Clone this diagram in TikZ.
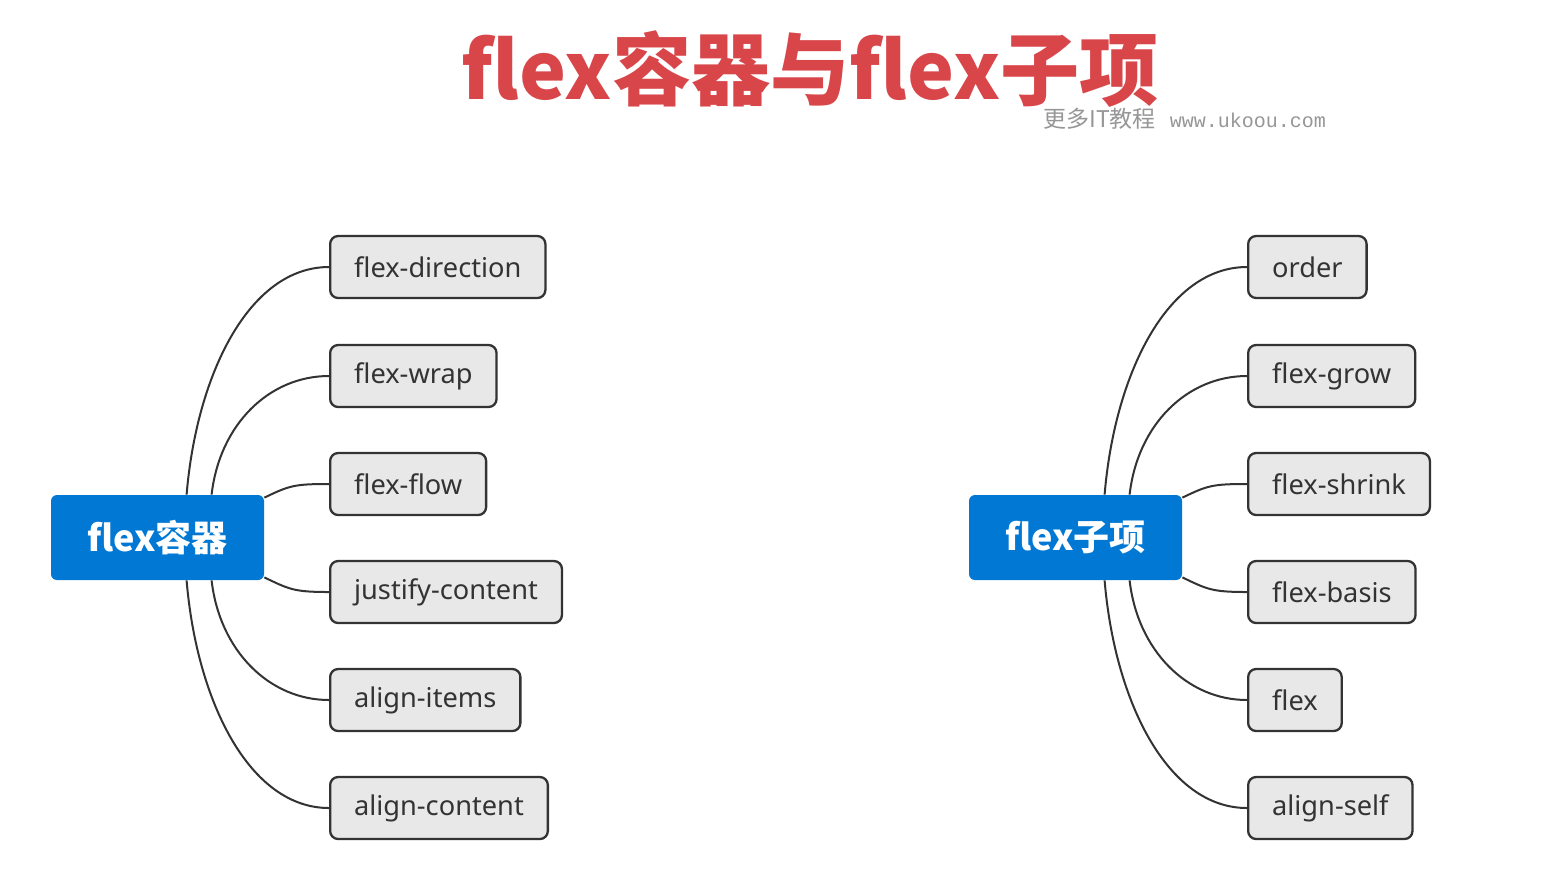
\documentclass[tikz,border=0pt]{standalone}
\usepackage{fontspec}
\setmainfont{Noto Sans}
\newfontfamily\cjk{Noto Sans CJK SC}
\newfontfamily\urlfont{Liberation Mono}
\definecolor{titleRed}{RGB}{217,70,74}
\definecolor{rootBlue}{RGB}{0,120,212}
\definecolor{leafGray}{RGB}{232,232,232}
\definecolor{lineDark}{RGB}{51,51,51}
\definecolor{markGray}{RGB}{150,150,150}

\begin{document}
\begin{tikzpicture}[x=0.5pt, y=-0.5pt,
  root/.style={fill=rootBlue, rounded corners=3pt, minimum width=106.5pt, minimum height=42.5pt,
    text=white, font=\cjk\bfseries\fontsize{18}{20}\selectfont},
  leaf/.style={draw=lineDark, line width=1.15pt, fill=leafGray, rounded corners=4pt, anchor=west,
    minimum height=31pt, inner xsep=12pt, text=lineDark, font=\fontsize{13.6}{15}\selectfont},
  branch/.style={draw=lineDark, line width=1pt}]
\useasboundingbox [fill=white] (0,0) rectangle (1551,880);
%
\node [text=titleRed, font=\cjk\bfseries\fontsize{39.6}{42}\selectfont] (title) at (810,69) {flex容器与flex子项};
\node [anchor=base west, text=markGray, inner sep=0pt] (mark) at (1043,127)
  {\cjk\fontsize{11.5}{12}\selectfont 更多IT教程\hspace{7pt}\urlfont\fontsize{10}{12}\selectfont www.ukoou.com};
%
\node [root] (cont) at (157.5,537.5) {flex容器};
\node [leaf] (cont1) at (329,267) {flex-direction};
\node [leaf] (cont2) at (329,376) {flex-wrap};
\node [leaf] (cont3) at (329,484) {flex-flow};
\node [leaf] (cont4) at (329,592) {justify-content};
\node [leaf] (cont5) at (329,700) {align-items};
\node [leaf] (cont6) at (329,808) {align-content};
%
\node [root] (item) at (1075.5,537.5) {flex子项};
\node [leaf] (item1) at (1247,267) {order};
\node [leaf] (item2) at (1247,376) {flex-grow};
\node [leaf] (item3) at (1247,484) {flex-shrink};
\node [leaf] (item4) at (1247,592) {flex-basis};
\node [leaf] (item5) at (1247,700) {flex};
\node [leaf] (item6) at (1247,808) {align-self};
%
\foreach \side in {cont,item}{
  \draw [branch] ([xshift=68pt]\side.north west) .. controls +(10,-120) and +(-80,0) .. (\side1.west);
  \draw [branch] ([xshift=80.5pt]\side.north west) .. controls +(8,-70) and +(-60,0) .. (\side2.west);
  \draw [branch] ([yshift=-1.5pt]\side.north east) .. controls +(25,-12) and +(-35,0) .. (\side3.west);
  \draw [branch] ([yshift=1.5pt]\side.south east) .. controls +(25,12) and +(-35,0) .. (\side4.west);
  \draw [branch] ([xshift=80.5pt]\side.south west) .. controls +(8,70) and +(-60,0) .. (\side5.west);
  \draw [branch] ([xshift=68pt]\side.south west) .. controls +(10,120) and +(-80,0) .. (\side6.west);
}
%
\end{tikzpicture}
\end{document}
